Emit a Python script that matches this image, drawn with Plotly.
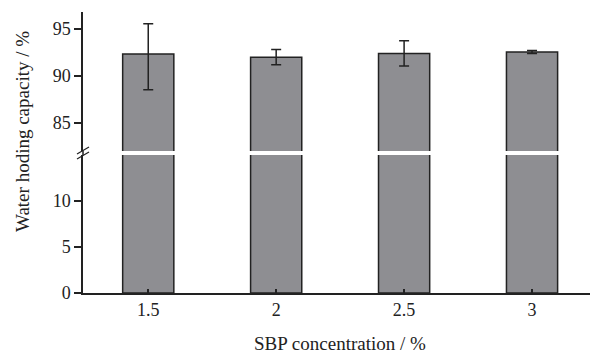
import plotly.graph_objects as go

categories = ["1.5", "2", "2.5", "3"]
values = [92.34, 92.0, 92.4, 92.55]
errors_plus = [3.2, 0.8, 1.35, 0.15]
errors_minus = [3.8, 0.8, 1.35, 0.15]

# page body has an 8px margin; compensate so the plot lands where the reference has it
OFF = 8
W, H = 598 - OFF, 353 - OFF
L, R, T, B = 83 - OFF, 2, 12 - OFF, 60
ph = H - T - B
pw = W - L - R

bar_color = "#8e8e92"
line_color = "#222222"
tick_font = dict(family="Liberation Serif, Times New Roman, serif", size=18, color="#222222")
title_font = dict(family="Liberation Serif, Times New Roman, serif", size=19, color="#222222")

fig = go.Figure()
fig.add_trace(go.Bar(x=categories, y=values, width=0.4,
                     marker=dict(color=bar_color, line=dict(color=line_color, width=1.5)),
                     xaxis="x", yaxis="y", showlegend=False))
fig.add_trace(go.Bar(x=categories, y=values, width=0.4,
                     marker=dict(color=bar_color, line=dict(color=line_color, width=1.5)),
                     error_y=dict(type="data", symmetric=False, array=errors_plus, arrayminus=errors_minus,
                                  color=line_color, thickness=1.5, width=5),
                     xaxis="x2", yaxis="y2", showlegend=False))

low_top = (293 - 155) / ph
up_bot = (293 - 151) / ph

axis_common = dict(showline=True, linecolor=line_color, linewidth=1.5, showgrid=False, zeroline=False,
                   tickfont=tick_font, tickcolor=line_color, tickwidth=1.5)

fig.update_layout(
    width=W, height=H,
    margin=dict(l=L, r=R, t=T, b=B),
    paper_bgcolor="white", plot_bgcolor="white",
    xaxis=dict(**axis_common, domain=[0, 1], range=[-0.51, 3.5], ticks="inside", ticklen=4, anchor="y"),
    xaxis2=dict(domain=[0, 1], range=[-0.51, 3.5], visible=False, anchor="y2", matches="x"),
    yaxis=dict(**axis_common, domain=[0, low_top], range=[0, 15], tickvals=[0, 5, 10],
               ticks="outside", ticklen=7, anchor="x"),
    yaxis2=dict(**axis_common, domain=[up_bot, 1], range=[82.02, 96.8], tickvals=[85, 90, 95],
                ticks="outside", ticklen=7, anchor="x2"),
    shapes=[
        dict(type="line", xref="paper", yref="paper", x0=0, x1=0, y0=low_top, y1=up_bot,
             line=dict(color=line_color, width=1.5)),
        dict(type="line", xref="paper", yref="paper", x0=-6/pw, x1=6/pw, y0=low_top - 4/ph, y1=low_top + 3/ph,
             line=dict(color=line_color, width=1.2)),
        dict(type="line", xref="paper", yref="paper", x0=-6/pw, x1=6/pw, y0=up_bot - 3/ph, y1=up_bot + 4/ph,
             line=dict(color=line_color, width=1.2)),
    ],
    annotations=[
        dict(text="Water hoding capacity / %", xref="paper", yref="paper", x=(23 - 83) / pw,
             y=(293 - 132) / ph, textangle=-90, showarrow=False, font=title_font,
             xanchor="center", yanchor="middle"),
        dict(text="SBP concentration / %", xref="paper", yref="paper", x=0.5,
             y=-(343 - 293) / ph, showarrow=False, font=title_font,
             xanchor="center", yanchor="middle"),
    ],
)

fig.write_html("out.html")
